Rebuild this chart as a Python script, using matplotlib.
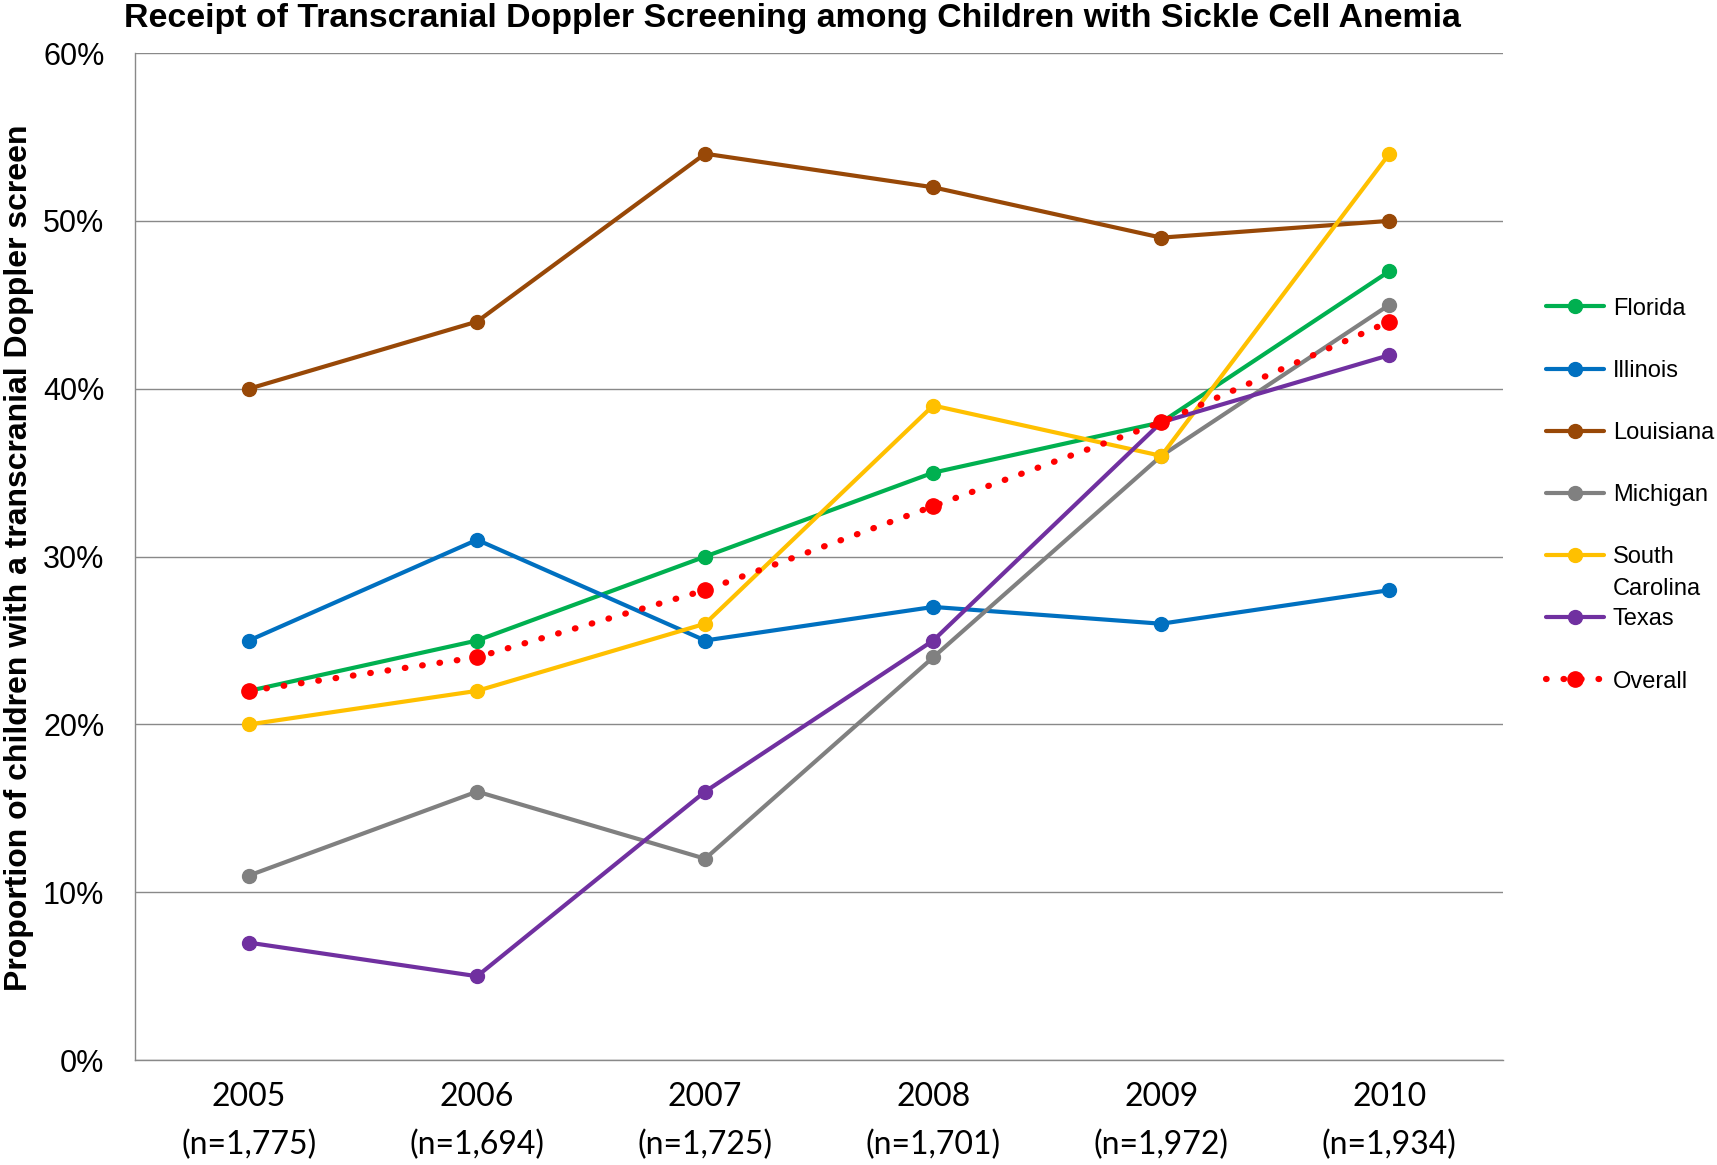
import matplotlib
matplotlib.use("Agg")
import matplotlib.pyplot as plt
from matplotlib.ticker import FuncFormatter

plt.rcParams['font.family'] = ['Liberation Sans', 'DejaVu Sans']

years = ["2005\n(n=1,775)", "2006\n(n=1,694)", "2007\n(n=1,725)",
         "2008\n(n=1,701)", "2009\n(n=1,972)", "2010\n(n=1,934)"]
florida = [22, 25, 30, 35, 38, 47]
illinois = [25, 31, 25, 27, 26, 28]
louisiana = [40, 44, 54, 52, 49, 50]
michigan = [11, 16, 12, 24, 36, 45]
south_carolina = [20, 22, 26, 39, 36, 54]
texas = [7, 5, 16, 25, 38, 42]
overall = [22, 24, 28, 33, 38, 44]

series = [
    ("Florida", florida, "#00B050"),
    ("Illinois", illinois, "#0070C0"),
    ("Louisiana", louisiana, "#984807"),
    ("Michigan", michigan, "#808080"),
    ("South", south_carolina, "#FFC000"),
    ("Texas", texas, "#7030A0"),
]

fig = plt.figure(figsize=(17.17, 11.65), dpi=100)
ax = fig.add_axes([0.0786, 0.090, 0.797, 0.8645])

x = list(range(len(years)))
for name, vals, col in series:
    ax.plot(x, vals, color=col, lw=3.0, marker='o', ms=10, label=name,
            solid_capstyle='round', zorder=3)

ax.plot(x, overall, color='#FF0000', lw=4.5, linestyle=(0, (0.1, 2.7)),
        dash_capstyle='round', marker='o', ms=11, label='Overall', zorder=4)

ax.set_xlim(-0.5, 5.5)
ax.set_ylim(0, 60)
ax.set_yticks(range(0, 61, 10))
ax.yaxis.set_major_formatter(FuncFormatter(lambda v, p: f"{int(v)}%"))
ax.set_xticks(x)
ax.set_xticklabels(years, linespacing=1.7, family=['Lato', 'DejaVu Sans'],
                   fontsize=23)
ax.tick_params(axis='both', length=0)
ax.tick_params(axis='y', labelsize=22, pad=22)
ax.tick_params(axis='x', pad=16)
ax.grid(axis='y', color='#898989', lw=1.0)
ax.set_axisbelow(True)
for s in ['top', 'right']:
    ax.spines[s].set_visible(False)
for s in ['left', 'bottom']:
    ax.spines[s].set_color('#898989')
    ax.spines[s].set_linewidth(1.0)

fig.text(0.0108, 0.521, "Proportion of children with a transcranial Doppler screen",
         rotation=90, ha='center', va='center', fontsize=23, fontweight='bold')
fig.text(0.4615, 0.9845, "Receipt of Transcranial Doppler Screening among Children with Sickle Cell Anemia",
         ha='center', va='center', fontsize=24.4, fontweight='bold')

leg = fig.legend(loc='center left', bbox_to_anchor=(0.9004, 0.575), frameon=False,
                 fontsize=17, labelspacing=1.7,
                 handlelength=2.45, handletextpad=0.38, borderpad=0, borderaxespad=0)
# second line of the South Carolina label sits between entries, as in the original
fig.text(0.9394, 1 - 589 / 1165, "Carolina", fontsize=17, ha='left', va='center')

fig.savefig("out.png", dpi=100)
